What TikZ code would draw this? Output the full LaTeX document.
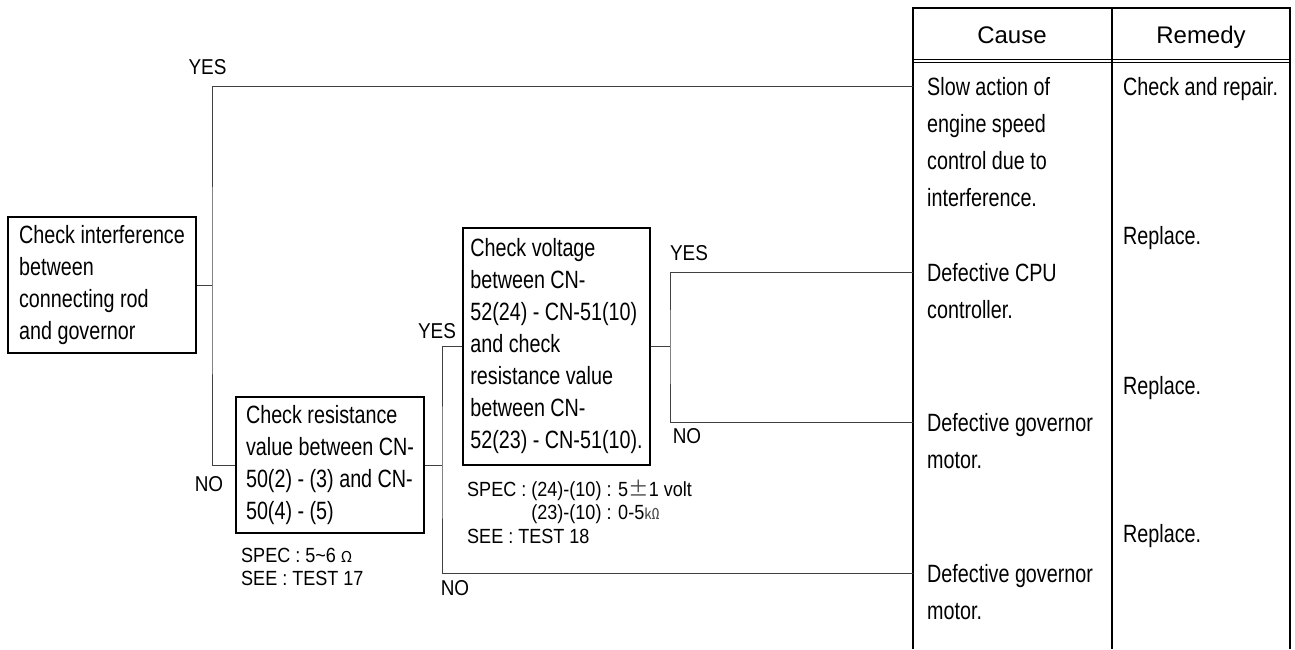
\documentclass[tikz,border=0pt]{standalone}
\usepackage{fontspec}
\setmainfont{Liberation Sans}
\newfontfamily\narrowfont[FakeStretch=0.79]{Liberation Sans}
\newfontfamily\labelfont[FakeStretch=0.88]{Liberation Sans}
\newfontfamily\cjk{Noto Sans CJK SC}
\begin{document}
\begin{tikzpicture}[x=1pt,y=-1pt,
  box/.style={draw=black, line width=1.3pt, align=left, inner sep=0pt,
    font=\narrowfont\fontsize{25}{32}\selectfont, minimum width=188pt},
  lbl/.style={inner sep=0pt, font=\labelfont\fontsize{21.5}{21.5}\selectfont},
  spec/.style={inner sep=0pt, anchor=north west, align=left, font=\labelfont\fontsize{20.5}{23.5}\selectfont},
  cell/.style={inner sep=0pt, anchor=north west, align=left, font=\narrowfont\fontsize{25}{37}\selectfont},
  head/.style={inner sep=0pt, anchor=base, font=\fontsize{24}{28}\selectfont},
  conn/.style={draw=black!75, line width=1pt},
  tab/.style={draw=black, line width=1.4pt}]
\useasboundingbox (0,0) rectangle (1295,649);

% decision boxes
\node[box, minimum height=136pt] (b1) at (102,285)
  {Check interference\\between\\connecting rod\\and governor};
\node[box, minimum height=136pt] (b2) at (330,465)
  {Check resistance\\value between CN-\\50(2) - (3) and CN-\\50(4) - (5)};
\node[box, minimum width=187pt, minimum height=237pt] (b3) at (556.5,346.5)
  {Check voltage\\between CN-\\52(24) - CN-51(10)\\and check\\resistance value\\between CN-\\52(23) - CN-51(10).};

% spec notes
\node[spec] (s2) at (241,547.5) {SPEC : 5\textasciitilde 6 {\cjk\fontsize{15}{23}\selectfont Ω}\\SEE : TEST 17};
\node[spec] (s3) at (467,479.5) {SPEC : (24)-(10) : 5{\cjk\color{black!70}±}1 volt\\\phantom{SPEC : }(23)-(10) : 0-5{\cjk\fontsize{15}{23}\selectfont\color{black!70}㏀}\\SEE : TEST 18};

% table
\draw[tab] (913,649) -- (913,8) -- (1290,8) -- (1290,649);
\draw[tab] (1112,8) -- (1112,649);
\draw[line width=1pt] (913,59.5) -- (1290,59.5);
\draw[line width=1pt] (913,62.7) -- (1290,62.7);
\node[head] (hc) at (1012,43.5) {Cause};
\node[head] (hr) at (1201,43.5) {Remedy};

% causes
\node[cell] (c1t) at (927,77) {Slow action of\\engine speed\\control due to\\interference.};
\node[cell] (c2t) at (927,263) {Defective CPU\\controller.};
\node[cell] (c3t) at (927,413) {Defective governor\\motor.};
\node[cell] (c4t) at (927,564) {Defective governor\\motor.};
% remedies
\node[cell] (r1) at (1123,77) {Check and repair.};
\node[cell] (r2) at (1123,226) {Replace.};
\node[cell] (r3) at (1123,376) {Replace.};
\node[cell] (r4) at (1123,524) {Replace.};

% connector end points at the table edge
\coordinate (e1) at (913,86);
\coordinate (e2) at (913,272);
\coordinate (e3) at (913,422);
\coordinate (e4) at (913,573);
% junctions
\coordinate (j1) at (212,285);
\coordinate (j2) at (442,465);
\coordinate (j3) at (670,346.5);

% connectors
\draw[conn] (b1.east) -- (j1);
\draw[conn] (e1) -| (j1) |- (b2.west);
\draw[conn] (b2.east) -- (j2);
\draw[conn] (b3.west) -| (j2) |- (e4);
\draw[conn] (b3.east) -- (j3);
\draw[conn] (e2) -| (j3) |- (e3);

% labels
\node[lbl] (y1) at (207.5,67) {YES};
\node[lbl] (n1) at (209,484) {NO};
\node[lbl] (y2) at (437,331) {YES};
\node[lbl] (n2) at (455,588) {NO};
\node[lbl] (y3) at (689,253) {YES};
\node[lbl] (n3) at (687,436) {NO};
\end{tikzpicture}
\end{document}
